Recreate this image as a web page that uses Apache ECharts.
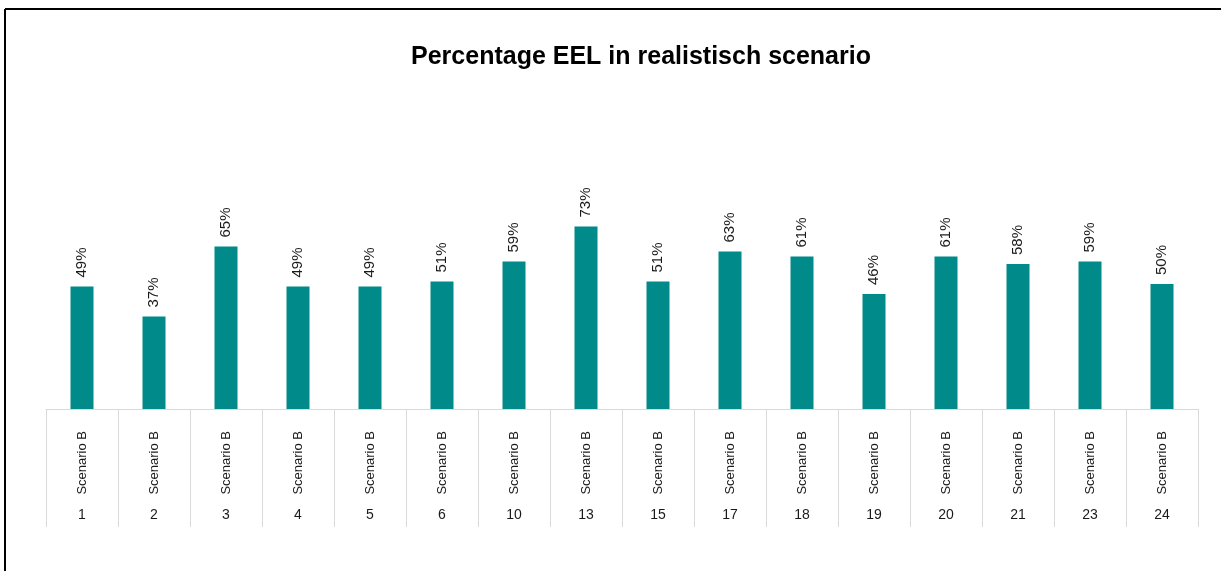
<!DOCTYPE html>
<html>
<head>
<meta charset="utf-8">
<script src="https://cdn.jsdelivr.net/npm/echarts@6/dist/echarts.min.js"></script>
<style>
  html, body { margin: 0; padding: 0; background: #fff; }
  #chart { width: 1221px; height: 571px; }
</style>
</head>
<body>
<div id="chart"></div>
<script>
// scenario numbers (outer category level) and group label
var scenarioNumbers = ['1', '2', '3', '4', '5', '6', '10', '13', '15', '17', '18', '19', '20', '21', '23', '24'];
var groupLabel = 'Scenario B';
// percentage EEL per scenario
var eelPercent = [49, 37, 65, 49, 49, 51, 59, 73, 51, 63, 61, 46, 61, 58, 59, 50];

var chart = echarts.init(document.getElementById('chart'));

var font = 'Liberation Sans';

var option = {
  animation: false,
  graphic: [
    // chart frame (left and top edge)
    { type: 'line', shape: { x1: 5, y1: 9, x2: 5, y2: 571 }, style: { stroke: '#000', lineWidth: 2 } },
    { type: 'line', shape: { x1: 5, y1: 9, x2: 1221, y2: 9 }, style: { stroke: '#000', lineWidth: 2 } },
    {
      type: 'text',
      x: 641,
      y: 57,
      style: {
        text: 'Percentage EEL in realistisch scenario',
        font: 'bold 25px ' + font,
        fill: '#000',
        textAlign: 'center',
        textVerticalAlign: 'middle'
      }
    }
  ],
  grid: {
    left: 46,
    right: 23,
    top: 209,
    bottom: 162
  },
  xAxis: [{
    type: 'category',
    position: 'bottom',
    data: scenarioNumbers,
    axisLine: { lineStyle: { color: '#d9d9d9', width: 1 } },
    axisTick: {
      show: true,
      interval: 0,
      length: 118,
      lineStyle: { color: '#d9d9d9', width: 1 }
    },
    axisLabel: {
      interval: 0,
      rotate: 90,
      margin: 22,
      fontFamily: font,
      fontSize: 13,
      color: '#1a1a1a',
      formatter: function () { return groupLabel; }
    }
  }, {
    type: 'category',
    position: 'bottom',
    data: scenarioNumbers,
    axisLine: { show: false },
    axisTick: { show: false },
    axisLabel: {
      interval: 0,
      margin: 99,
      fontFamily: font,
      fontSize: 14,
      color: '#1a1a1a'
    }
  }],
  yAxis: {
    type: 'value',
    min: 0,
    max: 80,
    show: false
  },
  series: [{
    type: 'bar',
    xAxisIndex: 0,
    data: eelPercent,
    barWidth: 23,
    itemStyle: { color: '#008a8a' },
    label: {
      show: true,
      position: 'top',
      rotate: 90,
      align: 'left',
      verticalAlign: 'middle',
      distance: 9,
      fontFamily: font,
      fontSize: 15,
      color: '#1a1a1a',
      formatter: '{c}%'
    }
  }]
};

chart.setOption(option);
</script>
</body>
</html>
